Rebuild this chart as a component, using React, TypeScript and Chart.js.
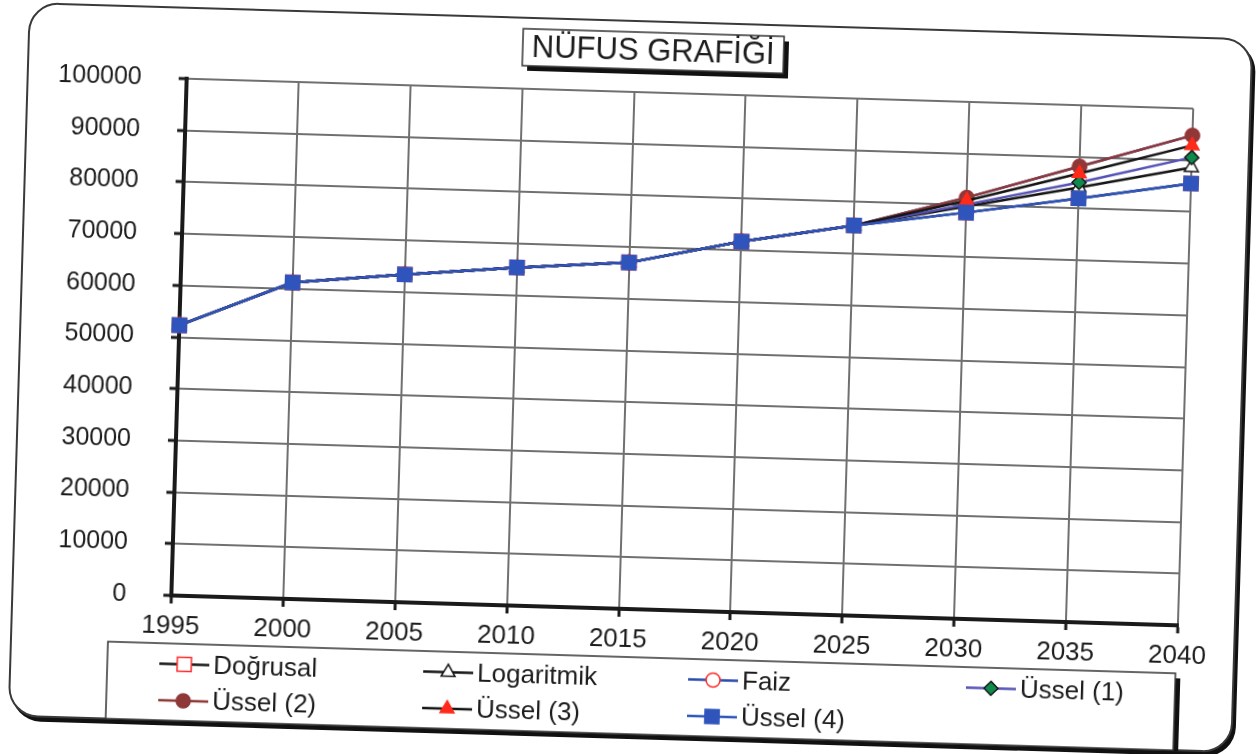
import { useEffect, useRef } from 'react';
import { Chart, registerables } from 'chart.js';

Chart.register(...registerables);

const TITLE = 'NÜFUS GRAFİĞİ';
const years = ['1995', '2000', '2005', '2010', '2015', '2020', '2025', '2030', '2035', '2040'];
const seriesNames = ['Doğrusal', 'Logaritmik', 'Faiz', 'Üssel (1)', 'Üssel (2)', 'Üssel (3)', 'Üssel (4)'];

const dogrusal = [52300, 61200, 63400, 65400, 67000, 71700, 75450, 78600, 81970, 85500];
const logaritmik = [52300, 61200, 63400, 65400, 67000, 71700, 75450, 79770, 84100, 88600];
const faiz = [52300, 61200, 63400, 65400, 67000, 71700, 75450, 81500, 88150, 94800];
const ussel1 = [52300, 61200, 63400, 65400, 67000, 71700, 75450, 80150, 85070, 90540];
const ussel2 = [52300, 61200, 63400, 65400, 67000, 71700, 75450, 81500, 88150, 94800];
const ussel3 = [52300, 61200, 63400, 65400, 67000, 71700, 75450, 80900, 86800, 92860];
const ussel4 = [52300, 61200, 63400, 65400, 67000, 71700, 75450, 78600, 81970, 85500];

const yMin = 0;
const yMax = 100000;
const yStep = 10000;

const seriesValues = [dogrusal, logaritmik, faiz, ussel1, ussel2, ussel3, ussel4];

const FONT = '"Liberation Sans", Arial, sans-serif';
const TEXT = '#1c1c1c';
const GRID = '#707070';

type Sty = { line: string; style: string; bg: string; bc: string; r: number };
const styles: Sty[] = [
  { line: '#151515', style: 'rect', bg: '#ffffff', bc: '#ff2a2a', r: 10 },
  { line: '#151515', style: 'triangle', bg: '#ffffff', bc: '#151515', r: 8 },
  { line: '#2a4bb0', style: 'circle', bg: '#ffffff', bc: '#ff2a2a', r: 7 },
  { line: '#5552b4', style: 'rectRot', bg: '#0e8a4c', bc: '#151515', r: 7 },
  { line: '#8e3838', style: 'circle', bg: '#8e3838', bc: '#8e3838', r: 7 },
  { line: '#151515', style: 'triangle', bg: '#ff2a1a', bc: '#ff2a1a', r: 8 },
  { line: '#2f55bd', style: 'rect', bg: '#2f55bd', bc: '#2f55bd', r: 10 },
];

// legend layout (canvas-local positions)
const LEG_BOX = { x: 98, y: 637, w: 1068, h: 77 };
const LEG_COLS = [175, 439, 704, 982];
const LEG_ROWS = [657.5, 694];
const TITLE_BOX = { x: 495, y: 12, w: 261, h: 37 };

function drawMarker(ctx: CanvasRenderingContext2D, s: Sty, x: number, y: number) {
  const r = s.r;
  ctx.beginPath();
  if (s.style === 'circle') {
    ctx.arc(x, y, r, 0, Math.PI * 2);
  } else if (s.style === 'rect') {
    const h = r * Math.SQRT1_2;
    ctx.rect(x - h, y - h, 2 * h, 2 * h);
  } else if (s.style === 'rectRot') {
    ctx.moveTo(x, y - r);
    ctx.lineTo(x + r, y);
    ctx.lineTo(x, y + r);
    ctx.lineTo(x - r, y);
    ctx.closePath();
  } else if (s.style === 'triangle') {
    for (let k = 0; k < 3; k++) {
      const a = (k * 2 * Math.PI) / 3;
      const px = x + Math.sin(a) * r;
      const py = y - Math.cos(a) * r;
      if (k === 0) ctx.moveTo(px, py);
      else ctx.lineTo(px, py);
    }
    ctx.closePath();
  }
  ctx.fillStyle = s.bg;
  ctx.fill();
  ctx.lineWidth = 1.5;
  ctx.strokeStyle = s.bc;
  ctx.stroke();
}

const decorPlugin = {
  id: 'decor',
  afterDraw(chart: any) {
    const ctx: CanvasRenderingContext2D = chart.ctx;
    ctx.save();
    // title box with shadow
    const t = TITLE_BOX;
    ctx.fillStyle = '#111';
    ctx.fillRect(t.x + 5, t.y + 5, t.w, t.h);
    ctx.fillStyle = '#fff';
    ctx.fillRect(t.x, t.y, t.w, t.h);
    ctx.lineWidth = 1.5;
    ctx.strokeStyle = '#333';
    ctx.strokeRect(t.x, t.y, t.w, t.h);
    ctx.fillStyle = TEXT;
    ctx.font = `31px ${FONT}`;
    ctx.textAlign = 'center';
    ctx.textBaseline = 'middle';
    ctx.fillText(TITLE, t.x + t.w / 2, t.y + t.h / 2 + 1);

    // legend box with shadow
    const L = LEG_BOX;
    ctx.fillStyle = '#111';
    ctx.fillRect(L.x + 5, L.y + 5, L.w, L.h);
    ctx.fillStyle = '#fff';
    ctx.fillRect(L.x, L.y, L.w, L.h);
    ctx.lineWidth = 1.5;
    ctx.strokeStyle = '#333';
    ctx.strokeRect(L.x, L.y, L.w, L.h);

    chart.data.datasets.forEach((ds: any, i: number) => {
      const s = styles[i];
      const row = i < 4 ? 0 : 1;
      const col = i < 4 ? i : i - 4;
      const mx = LEG_COLS[col];
      const my = LEG_ROWS[row];
      ctx.beginPath();
      ctx.moveTo(mx - 25, my);
      ctx.lineTo(mx + 25, my);
      ctx.lineWidth = 2.5;
      ctx.strokeStyle = s.line;
      ctx.stroke();
      drawMarker(ctx, s, mx, my);
      ctx.fillStyle = TEXT;
      ctx.font = `26px ${FONT}`;
      ctx.textAlign = 'left';
      ctx.textBaseline = 'middle';
      ctx.fillText(ds.label, mx + 29, my + 1);
    });
    ctx.restore();
  },
};

export default function App() {
  const ref = useRef<HTMLCanvasElement | null>(null);

  useEffect(() => {
    if (!ref.current) return;
    const datasets = seriesNames.map((name, i) => ({
      label: name,
      data: seriesValues[i],
      borderColor: styles[i].line,
      backgroundColor: styles[i].bg,
      borderWidth: 2.5,
      pointStyle: styles[i].style,
      pointRadius: styles[i].r,
      pointBackgroundColor: styles[i].bg,
      pointBorderColor: styles[i].bc,
      pointBorderWidth: 1.5,
      tension: 0,
      clip: false,
      order: seriesNames.length - 1 - i,
    }));

    const gridCfg = {
      color: GRID,
      lineWidth: 2,
      drawTicks: true,
      tickLength: 8,
      tickColor: '#1a1a1a',
      tickWidth: 3,
    };

    const chart = new Chart(ref.current, {
      type: 'line',
      data: { labels: years, datasets },
      options: {
        animation: false,
        responsive: false,
        events: [],
        layout: { padding: { left: 0, top: 72, right: 58, bottom: 86 } },
        plugins: {
          legend: { display: false },
          title: { display: false },
          tooltip: { enabled: false },
        },
        scales: {
          x: {
            type: 'category',
            offset: false,
            grid: gridCfg,
            border: { display: true, color: '#1a1a1a', width: 4 },
            ticks: {
              font: { family: FONT, size: 26 },
              color: TEXT,
              padding: 7,
              maxRotation: 0,
              autoSkip: false,
            },
            afterFit: (s: any) => {
              s.height = 40;
            },
          },
          y: {
            min: yMin,
            max: yMax,
            grid: gridCfg,
            border: { display: true, color: '#1a1a1a', width: 4 },
            ticks: {
              stepSize: yStep,
              font: { family: FONT, size: 25 },
              color: TEXT,
              padding: 37,
              callback: (v: any) => String(v),
            },
            afterFit: (s: any) => {
              s.width = 160;
            },
          },
        },
      } as any,
      plugins: [decorPlugin],
    });
    return () => chart.destroy();
  }, []);

  return (
    <div
      style={{
        position: 'fixed',
        left: 0,
        top: 0,
        width: 1260,
        height: 754,
        background: '#ffffff',
        overflow: 'hidden',
      }}
    >
      <div
        style={{
          position: 'absolute',
          left: 17.5,
          top: 19.5,
          width: 1225,
          height: 715,
          boxSizing: 'border-box',
          border: '2px solid #3a3a3a',
          borderRadius: 30,
          boxShadow: '3px 4px 0 #111',
          transform: 'rotate(1.7deg)',
          transformOrigin: '50% 50%',
          background: '#fff',
        }}
      >
        <canvas
          ref={ref}
          width={1225}
          height={715}
          style={{ position: 'absolute', left: -2, top: -2, width: 1225, height: 715 }}
        />
      </div>
    </div>
  );
}
